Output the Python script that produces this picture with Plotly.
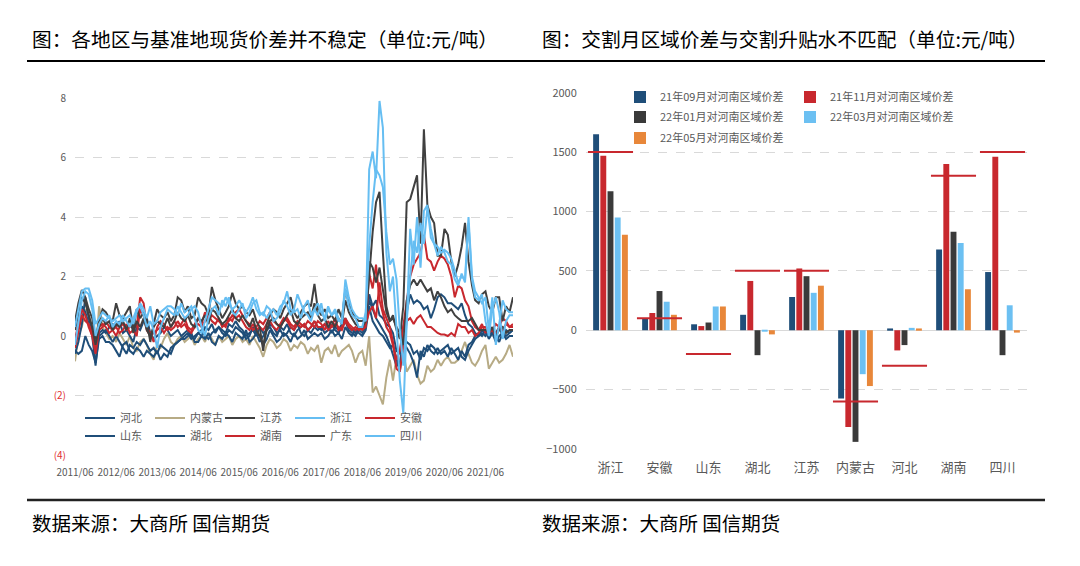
import pandas as pd
import plotly.graph_objects as go

# ---------------- Left chart data (monthly, 2011/06 - 2022/02) ----------------
months = pd.date_range("2011-06-01", periods=129, freq="MS")

hebei = [-0.3, 0.3, 1.0, 0.8, 0.4, 0.0, -1.0, 0.1, 0.2, 0.1, 0.3, 0.4,
         0.3, 0.5, 0.1, 0.2, 0.0, -0.2, 0.3, 0.2, 0.5, 0.6, 0.1, -0.1,
         0.0, 0.1, 0.3, 0.2, 0.0, 0.1, 0.2, 0.0, 0.1, 0.2, 0.0, -0.1,
         0.1, 0.0, 0.3, 0.2, 0.4, 0.1, 0.3, 0.2, 0.1, 0.4, 0.3, 0.5,
         0.3, 0.2, 0.0, 0.1, 0.2, 0.0, 0.3, 0.1, 0.2, 0.4, 0.3, 0.1,
         0.2, 0.0, 0.1, 0.3, 0.2, 0.4, 0.1, 0.0, 0.2, 0.3, 0.5, 0.3,
         0.2, 0.4, 0.3, 0.1, 0.3, 0.2, 0.4, 0.6, 0.3, 0.2, 0.1, 0.3,
         0.2, 0.4, 1.4, 1.0, 1.2, 0.7, 0.6, 0.4, 0.3, 0.1, -0.5, -0.6,
         0.3, 0.8, 1.4, 1.1, 1.2, 1.1, 0.9, 1.0, 0.6, 0.9, 1.3, 1.4,
         1.3, 1.1, 1.1, 1.0, 0.9, 1.1, 0.7, 0.4, 0.3, 0.1, 0.0, 0.2,
         0.1, 0.0, 0.2, 0.1, 0.3, 0.0, 0.2, 0.1, 0.2]

neimenggu = [-0.85, 0.0, 0.3, 0.9, 0.7, 0.2, -0.8, 1.0, 0.3, 0.1, -0.1, 0.0,
             -0.2, 0.1, -0.1, -0.3, 0.0, -0.4, -0.5, -0.2, -0.1, -0.3, -0.6, -0.8,
             -0.3, -0.4, -0.1, 0.1, -0.2, -0.3, -0.1, 0.0, -0.2, -0.1, 0.0, -0.3,
             -0.1, 0.0, -0.2, 0.1, -0.1, -0.3, 0.0, -0.2, -0.1, 0.0, -0.3, -0.1,
             0.0, -0.2, -0.1, -0.3, 0.0, -0.2, -0.4, -0.7, -0.3, -0.1, -0.2, -0.4,
             -0.3, -0.1, -0.2, -0.5, -0.3, -0.4, -0.2, -0.3, -0.6, -0.4, -0.5, -0.3,
             -0.9, -0.5, -0.4, -0.6, -0.3, -0.7, -0.5, -0.4, -0.3, -0.5, -0.9, -0.6,
             -0.5, -1.0, 0.0, -1.9, -1.7, -2.0, -2.3, -1.4, -0.8, -1.5, -0.7, -1.0,
             -0.5, -1.2, -1.0, -0.8, -1.3, -1.6, -1.5, -1.0, -1.2, -1.1, -0.8, -1.0,
             -0.8, -0.7, -0.9, -0.9, -0.8, -0.5, -0.2, -0.6, -0.9, -1.0, -0.8, -0.5,
             -0.3, -1.1, -0.9, -0.7, -0.9, -0.8, -0.6, -0.3, -0.7]

jiangsu = [0.2, 0.8, 1.3, 1.1, 0.7, 0.3, -0.3, 0.3, 0.6, 0.4, 0.5, 0.2,
           0.4, 0.3, 0.5, 0.2, 0.6, 0.1, 0.5, 0.3, 0.6, 0.2, 0.0, 0.3,
           0.5, 0.4, 0.3, 0.6, 0.3, 0.5, 0.8, 0.6, 0.5, 0.7, 0.4, 0.3,
           0.6, 0.5, 0.7, 0.4, 0.9, 0.8, 0.6, 0.4, 0.5, 0.7, 0.9, 0.6,
           0.5, 0.7, 0.5, 0.3, 0.6, 0.2, 0.0, -0.3, 0.2, 0.5, 0.6, 0.4,
           0.3, 0.5, 0.7, 0.9, 0.5, 0.4, 0.6, 0.7, 0.8, 0.6, 1.1, 0.7,
           0.5, 0.6, 0.3, 0.5, 0.3, 0.6, 0.4, 1.2, 0.8, 0.6, 0.4, 0.3,
           0.3, 0.5, 2.5, 2.3, 1.8, 2.3, 1.5, 0.8, 0.5, 0.6, 0.3, 0.1,
           -0.3, 1.2, 1.7, 1.9, 1.7, 1.9, 1.7, 1.5, 1.6, 1.2, 1.5, 1.3,
           1.0, 0.8, 0.9, 0.7, 0.6, 0.5, 0.5, 0.5, 0.6, 0.4, 0.2, 0.2,
           0.2, 0.1, 0.3, 0.0, 0.2, 0.3, 0.1, 0.2, 0.2]

zhejiang = [0.3, 0.9, 1.5, 1.6, 1.6, 1.2, 0.4, 0.6, 0.8, 0.7, 0.6, 0.5,
            0.6, 0.7, 0.5, 0.6, 0.7, 0.4, 0.8, 1.1, 0.9, 0.6, 1.0, 0.4,
            0.5, 0.8, 0.9, 1.0, 1.0, 0.9, 0.7, 1.1, 0.8, 0.9, 1.0, 0.6,
            0.2, 0.1, 0.5, 0.9, 1.3, 1.2, 1.1, 1.0, 1.3, 1.1, 0.9, 1.0,
            1.2, 1.0, 0.8, 1.0, 1.3, 0.9, 0.7, 0.8, 0.6, 0.8, 0.9, 0.7,
            1.0, 1.1, 1.5, 0.9, 0.8, 0.9, 0.6, 1.0, 1.2, 0.7, 0.9, 1.1,
            0.8, 0.6, 1.0, 0.7, 0.9, 0.6, 0.4, 1.9, 1.3, 0.9, 0.7, 0.6,
            0.6, 0.5, 5.6, 6.2, 5.3, 7.9, 7.0, 2.8, 1.5, 2.0, 0.3, -1.5,
            -2.6, 0.8, 3.6, 2.4, 4.0, 2.3, 4.2, 4.4, 3.3, 3.1, 3.0, 2.8,
            2.9, 2.8, 2.6, 2.2, 1.8, 2.0, 1.9, 4.0, 2.0, 1.5, 1.3, 1.1,
            1.3, 0.2, 1.3, -0.3, 0.4, 1.2, 0.9, 0.8, 0.8]

anhui = [-0.1, 0.4, 0.9, 0.7, 0.3, 0.0, -0.6, 0.2, 0.3, 0.5, 0.3, 0.2,
         0.0, 0.3, 0.4, 0.2, 0.3, 0.4, 0.3, 1.3, 1.1, 0.3, 0.1, -0.2,
         0.3, 0.5, 0.4, 0.2, 0.3, 0.5, 0.3, 0.4, 0.6, 0.3, 0.2, 0.4,
         0.6, 0.4, 0.8, 0.5, 0.7, 0.6, 0.5, 0.4, 0.3, 0.6, 0.5, 0.8,
         0.9, 0.7, 0.5, 0.4, 0.2, 0.3, 0.5, 0.4, 0.6, 0.8, 0.5, 0.4,
         0.3, 0.5, 0.6, 0.4, 0.3, 0.5, 0.4, 0.3, 0.5, 0.4, 0.3, 0.5,
         0.4, 0.2, 0.5, 0.3, 0.6, 0.2, 0.3, 0.6, 0.4, 0.3, 0.2, 0.3,
         0.2, 0.3, 2.1, 1.6, 2.4, 1.2, 0.8, 0.3, 0.1, -0.3, -0.8, -0.5,
         0.4, 1.2, 2.0, 2.4, 2.6, 2.8, 3.4, 2.6, 2.5, 2.2, 2.5, 2.7,
         2.6, 2.4, 2.0, 1.3, 1.7, 1.6, 1.2, 1.0, 0.5, 0.3, 0.2, 0.4,
         0.1, 0.3, 0.2, 0.4, 0.3, 0.6, 0.5, 0.3, 0.4]

shandong = [-0.5, -0.6, -0.5, 0.0, -0.3, -0.5, -0.9, -0.1, 0.0, -0.2, -0.2, -0.3,
            -0.5, -0.7, -0.3, -0.2, -0.5, -0.6, -0.4, -0.5, -0.7, -0.5, -0.6, -0.7,
            -0.5, -0.8, -0.6, -0.7, -0.4, -0.3, -0.2, -0.1, -0.1, 0.0, 0.1, -0.2,
            -0.2, 0.0, -0.1, 0.1, -0.2, -0.3, 0.0, -0.1, 0.1, 0.0, -0.2, 0.1,
            0.0, -0.1, 0.2, -0.2, -0.1, 0.1, 0.0, -0.3, -0.1, 0.2, 0.0, -0.2,
            -0.1, 0.1, 0.0, -0.2, 0.1, -0.1, 0.0, 0.2, -0.1, 0.0, 0.1, 0.0,
            0.1, -0.1, 0.0, 0.2, 0.0, 0.1, -0.1, 0.3, 0.1, 0.0, 0.2, 0.1,
            0.0, 0.2, 1.0, 0.5, 0.3, 0.1, 0.0, -0.2, -0.4, -0.3, -0.8, -1.2,
            -0.2, -0.4, -0.6, -0.9, -1.4, -0.5, -0.7, -0.3, -0.5, -0.6, -0.4, -0.6,
            -0.5, -0.7, -0.4, -0.6, -0.8, -0.5, -0.7, -0.3, -0.2, 0.0, 0.1, 0.0,
            0.2, -0.1, 0.1, 0.0, -0.2, 0.1, 0.0, 0.1, 0.2]

hubei = [-0.6, -0.2, 0.4, 1.3, 0.6, 0.2, -0.6, 0.0, 0.1, 0.2, 0.0, -0.2,
         0.0, -0.2, -0.4, -0.6, -0.3, -0.4, -0.2, -0.3, -0.1, -0.3, -0.5, -0.4,
         -0.6, -0.3, -0.4, -0.5, -0.6, -0.3, -0.2, -0.1, 0.0, 0.1, -0.1, 0.0,
         0.1, 0.2, 0.0, -0.1, 0.1, 0.2, 0.3, 0.1, 0.0, 0.2, 0.1, 0.3,
         0.2, 0.1, -0.1, 0.0, 0.3, 0.1, -0.2, 0.0, 0.2, 0.3, 0.1, 0.0,
         0.3, 0.2, 0.4, 0.1, 0.0, 0.2, 0.3, 0.4, 0.2, 0.1, 0.3, 0.2,
         0.3, 0.1, 0.2, 0.4, 0.2, 0.1, 0.3, 0.5, 0.2, 0.1, 0.0, 0.2,
         0.1, 0.3, 1.2, 0.9, 0.6, 0.4, 0.2, 0.0, -0.3, -0.6, -1.0, -0.9,
         -0.1, -0.2, -0.3, -0.6, -0.5, -0.8, -0.4, -0.5, -0.3, -0.4, -0.6, -0.5,
         -0.4, -0.3, -0.6, -0.5, -0.4, -0.7, -0.8, -0.5, -0.3, -0.1, 0.0, 0.1,
         0.0, 0.2, 0.1, -0.2, 0.0, 0.1, -0.1, 0.0, 0.0]

hunan = [-0.4, 0.2, 0.7, 0.5, 0.4, 0.1, -0.5, 0.3, 0.4, 0.3, 0.1, 0.2,
         0.3, 0.1, 0.2, 0.4, 0.1, 0.2, 0.0, 0.9, 0.7, 0.2, 0.0, 0.1,
         0.2, 0.3, 0.1, 0.3, 0.2, 0.3, 0.5, 0.3, 0.4, 0.2, 0.1, 0.3,
         0.4, 0.3, 0.5, 0.7, 0.5, 0.4, 0.6, 0.3, 0.4, 0.5, 0.7, 0.6,
         0.7, 0.5, 0.3, 0.2, 0.4, 0.2, 0.3, 0.2, 0.4, 0.5, 0.3, 0.2,
         0.4, 0.6, 0.5, 0.3, 0.2, 0.4, 0.3, 0.4, 0.2, 0.3, 0.5, 0.3,
         0.3, 0.4, 0.2, 0.3, 0.4, 0.3, 0.2, 0.5, 0.3, 0.2, 0.3, 0.2,
         0.3, 0.4, 0.8, 1.0, 0.6, 1.8, 0.9, 0.6, 0.3, -0.2, -1.1, -1.2,
         -0.3, 0.5, 0.6, 0.4, 0.6, 0.7, 0.5, 0.3, 0.3, 0.2, 0.1, 0.05,
         0.05, 0.0, 0.1, 0.0, 0.4, 0.3, 0.3, 0.1, 0.2, 0.0, 0.1, 0.3,
         0.3, 0.1, 0.2, 0.0, 0.3, 0.2, 0.4, 0.3, 0.3]

guangdong = [0.5, 1.1, 1.55, 1.3, 0.9, 0.6, -0.1, 0.5, 0.9, 0.8, 0.6, 0.5,
             1.1, 0.7, 0.6, 0.8, 1.0, 0.2, 0.9, 0.6, 0.8, 0.5, -0.2, 0.4,
             0.9, 0.7, 0.6, 0.8, 0.5, 0.7, 1.3, 1.2, 0.8, 1.0, 0.6, 0.7,
             1.3, 1.1, 1.0, 0.7, 1.65, 1.2, 0.9, 0.6, 0.8, 1.0, 1.45, 1.1,
             0.9, 1.0, 0.8, 0.7, 0.9, 0.5, 0.3, -0.5, 0.4, 0.7, 0.9, 0.8,
             0.6, 0.9, 1.1, 1.3, 0.8, 0.6, 0.8, 1.0, 1.1, 1.0, 1.75, 0.9,
             0.7, 0.9, 0.6, 0.7, 0.5, 0.9, 0.6, 1.55, 1.1, 0.8, 0.6, 0.5,
             0.5, 0.6, 2.0, 3.5, 4.5, 4.85, 2.8, 1.0, 0.5, 0.7, 0.2, -0.1,
             1.0, 4.5, 4.6, 5.0, 5.4, 3.1, 6.95, 4.4, 4.0, 3.8, 2.7, 2.7,
             3.6, 3.4, 2.5, 2.0, 2.4, 3.0, 3.8, 2.5, 1.7, 1.2, 1.1, 1.4,
             1.5, 1.0, 0.8, 1.3, 1.3, 0.5, 1.0, 0.8, 1.3]

sichuan = [-0.3, 0.5, 1.2, 1.5, 1.4, 0.9, 0.0, 0.4, 0.6, 0.5, 0.7, 0.3,
           0.5, 0.4, 0.7, 0.5, 0.3, 0.6, 0.9, 1.0, 0.7, 0.3, 0.5, 0.2,
           -0.4, 0.3, 0.6, 0.9, 0.8, 0.7, 1.0, 0.8, 0.6, 0.7, 0.9, 1.0,
           0.8, 0.3, 0.0, 0.6, 0.9, 1.0, 0.7, 1.2, 1.0, 1.3, 0.8, 0.7,
           0.9, 1.1, 0.6, 0.8, 1.1, 1.2, 0.8, 0.7, 1.0, 0.9, 0.5, 0.6,
           0.8, 1.2, 1.0, 0.7, 0.9, 1.4, 1.1, 0.8, 0.7, 0.5, 0.9, 0.7,
           1.1, 0.5, 0.9, 0.7, 0.8, 0.5, 0.5, 1.6, 1.0, 0.7, 0.6, 0.3,
           0.3, 0.8, 3.0, 4.5, 5.6, 5.4, 5.0, 3.5, 2.4, 2.6, 1.9, 0.2,
           -1.0, 0.5, 2.0, 3.2, 2.8, 3.8, 3.1, 4.3, 3.6, 3.1, 2.7, 3.0,
           2.8, 2.5, 2.4, 1.9, 1.7, 2.1, 1.8, 3.8, 1.9, 1.3, 1.2, 1.4,
           0.5, 0.0, 0.9, 1.3, 0.8, -0.1, 0.5, 0.7, 0.7]

# ---------------- Right chart data ----------------
regions = ["浙江", "安徽", "山东", "湖北", "江苏", "内蒙古", "河北", "湖南", "四川"]
diff_2109 = [1650, 100, 50, 130, 280, -575, 15, 680, 490]
diff_2111 = [1470, 145, 35, 415, 520, -815, -170, 1400, 1460]
diff_2201 = [1170, 330, 65, -210, 455, -940, -125, 830, -210]
diff_2203 = [950, 240, 200, -10, 315, -370, 20, 735, 210]
diff_2205 = [805, 130, 200, -35, 375, -470, 15, 345, -20]
premium = [1500, 100, -200, 500, 500, -600, -300, 1300, 1500]

NAVY = "#1F4E79"
KHAKI = "#B7AB85"
DARK = "#404040"
LBLUE = "#66BEF2"
RED = "#C8282E"
ORANGE = "#E8873A"
GRID = "#D9D9D9"
TXT = "#595959"
FONT = "Noto Sans CJK SC"
W, H = 1080, 566
OFF = 8  # page body offset of the plot


def px(x):
    return (x - OFF) / W


def py(y):
    return 1 - (y - OFF) / H


fig = go.Figure()

# legend rows: row1 -> "legend", row2 -> "legend3"
left_series = [
    ("内蒙古", neimenggu, KHAKI, "legend", 2),
    ("河北", hebei, NAVY, "legend", 1),
    ("山东", shandong, NAVY, "legend3", 1),
    ("湖北", hubei, NAVY, "legend3", 2),
    ("湖南", hunan, RED, "legend3", 3),
    ("安徽", anhui, RED, "legend", 5),
    ("江苏", jiangsu, DARK, "legend", 3),
    ("广东", guangdong, DARK, "legend3", 4),
    ("四川", sichuan, LBLUE, "legend3", 5),
    ("浙江", zhejiang, LBLUE, "legend", 4),
]
for name, vals, col, lg, rank in left_series:
    assert len(vals) == len(months), name
    fig.add_trace(go.Scatter(x=months, y=vals, name=name, mode="lines",
                             line=dict(color=col, width=2), legend=lg,
                             legendrank=rank, xaxis="x", yaxis="y"))

bar_series = [
    ("21年09月对河南区域价差", diff_2109, NAVY, "legend2"),
    ("21年11月对河南区域价差", diff_2111, RED, "legend2"),
    ("22年01月对河南区域价差", diff_2201, "#3A3A3A", "legend4"),
    ("22年03月对河南区域价差", diff_2203, "#6CC0F2", "legend4"),
    ("22年05月对河南区域价差", diff_2205, ORANGE, "legend5"),
]
for name, vals, col, lg in bar_series:
    fig.add_trace(go.Bar(x=regions, y=vals, name=name, marker=dict(color=col, line=dict(width=0)),
                         legend=lg, xaxis="x2", yaxis="y2"))

shapes = []
for i, v in enumerate(premium):
    shapes.append(dict(type="line", xref="x2", yref="y2", x0=i - 0.46, x1=i + 0.46,
                       y0=v, y1=v, line=dict(color=RED, width=2), layer="above"))
# header / footer rules
shapes.append(dict(type="line", xref="paper", yref="paper", x0=px(27), x1=px(1045),
                   y0=py(61), y1=py(61), line=dict(color="#000000", width=2)))
shapes.append(dict(type="line", xref="paper", yref="paper", x0=px(27), x1=px(1045),
                   y0=py(500), y1=py(500), line=dict(color="#222222", width=2.5)))


def legend_box(x, y, ew):
    return dict(orientation="h", x=x, y=y, xanchor="left", yanchor="middle",
                xref="paper", yref="paper", bgcolor="rgba(0,0,0,0)",
                font=dict(family=FONT, size=11, color=TXT),
                entrywidth=ew, entrywidthmode="pixels", traceorder="normal",
                itemwidth=30, tracegroupgap=0)


left_ticks = [-4, -2, 0, 2, 4, 6, 8]
left_ticktext = ['<span style="color:#E03030">(4)</span>', '<span style="color:#E03030">(2)</span>',
                 "0", "2", "4", "6", "8"]

fig.update_layout(
    width=W, height=H,
    margin=dict(l=0, r=0, t=0, b=0, autoexpand=False),
    paper_bgcolor="white", plot_bgcolor="white",
    font=dict(family=FONT, color=TXT),
    barmode="group", bargap=0.265, bargroupgap=0.18,
    showlegend=True,
    xaxis=dict(domain=[px(75), px(513)], type="date",
               range=["2011-06-01", "2022-02-01"],
               tickvals=[f"{y}-06-01" for y in range(2011, 2022)],
               ticktext=[f"{y}/06" for y in range(2011, 2022)],
               showgrid=False, showline=False, zeroline=False,
               ticks="outside", ticklen=8, tickcolor="rgba(0,0,0,0)",
               tickfont=dict(size=10, color=TXT), anchor="y", automargin=False),
    yaxis=dict(domain=[py(455), py(98)], range=[-4, 8],
               tickvals=left_ticks, ticktext=left_ticktext,
               showgrid=True, gridcolor=GRID, griddash="dash", gridwidth=1,
               zeroline=True, zerolinecolor=GRID, zerolinewidth=1,
               showline=False, ticks="outside", ticklen=6, tickcolor="rgba(0,0,0,0)",
               tickfont=dict(size=10, color=TXT), anchor="x", automargin=False),
    xaxis2=dict(domain=[px(586), px(1027)], type="category",
                showgrid=False, showline=False, zeroline=False,
                ticks="outside", ticklen=6, tickcolor="rgba(0,0,0,0)",
                tickfont=dict(size=13, color=TXT), anchor="y2", automargin=False),
    yaxis2=dict(domain=[py(449), py(92.7)], range=[-1000, 2000],
                tickvals=[-1000, -500, 0, 500, 1000, 1500, 2000],
                showgrid=True, gridcolor=GRID, griddash="dash", gridwidth=1,
                zeroline=True, zerolinecolor=GRID, zerolinewidth=1,
                showline=False, ticks="outside", ticklen=6, tickcolor="rgba(0,0,0,0)",
                tickfont=dict(size=11, color=TXT), anchor="x2", automargin=False),
    legend=legend_box(px(80), py(418), 25),
    legend3=legend_box(px(80), py(436), 25),
    legend2=legend_box(px(620), py(97), 125),
    legend4=legend_box(px(620), py(117), 125),
    legend5=legend_box(px(620), py(138), 125),
    shapes=shapes,
    annotations=[
        dict(text="图：各地区与基准地现货价差并不稳定（单位:元/吨）", xref="paper", yref="paper",
             x=px(30), y=py(38), xanchor="left", yanchor="middle", showarrow=False,
             font=dict(family=FONT, size=19.7, color="#000000")),
        dict(text="图：交割月区域价差与交割升贴水不匹配（单位:元/吨）", xref="paper", yref="paper",
             x=px(540), y=py(38), xanchor="left", yanchor="middle", showarrow=False,
             font=dict(family=FONT, size=19.7, color="#000000")),
        dict(text="数据来源：大商所 国信期货", xref="paper", yref="paper",
             x=px(30), y=py(522), xanchor="left", yanchor="middle", showarrow=False,
             font=dict(family=FONT, size=19.5, color="#000000")),
        dict(text="数据来源：大商所 国信期货", xref="paper", yref="paper",
             x=px(540), y=py(522), xanchor="left", yanchor="middle", showarrow=False,
             font=dict(family=FONT, size=19.5, color="#000000")),
    ],
)

fig.write_html("out.html")
